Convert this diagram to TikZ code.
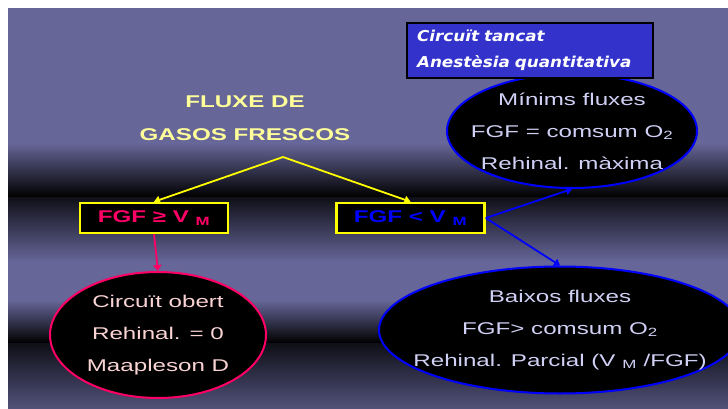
\documentclass[tikz,border=0pt]{standalone}
\usepackage{fontspec}
\setmainfont{Liberation Sans}[FakeStretch=1.42]
\newfontfamily\tagfont{DejaVu Sans}[FakeStretch=1.12]
\usetikzlibrary{arrows.meta,shapes.geometric}

\definecolor{slide}{RGB}{102,102,153}
\definecolor{titleyellow}{RGB}{255,255,153}
\definecolor{boxyellow}{RGB}{255,255,0}
\definecolor{hotpink}{RGB}{255,0,102}
\definecolor{pinktext}{RGB}{250,212,212}
\definecolor{lavender}{RGB}{208,208,245}
\definecolor{pureblue}{RGB}{0,0,255}
\definecolor{tagblue}{RGB}{51,51,204}

\begin{document}
\begin{tikzpicture}[x=1pt,y=1pt,
    cond/.style={rectangle,draw=boxyellow,line width=2.5pt,fill=black,minimum width=148pt,minimum height=30pt,inner sep=0pt,font=\fontsize{17}{20}\selectfont\bfseries},
    bubble/.style={ellipse,fill=black,line width=2pt,inner xsep=-40pt,inner ysep=-20pt,align=center,font=\fontsize{17}{32}\selectfont},
    link/.style={line width=1.8pt,-{Triangle[length=6pt,width=8pt]}}]
    \useasboundingbox (0,0) rectangle (728,-409);

    % slide background with dark bands
    \fill[slide] (8,-8) rectangle (728,-409);
    \shade[top color=slide,bottom color=black] (8,-143) rectangle (728,-197);
    \shade[top color=black!85!slide,bottom color=slide] (8,-197) rectangle (728,-262);
    \shade[top color=slide,bottom color=black] (8,-300) rectangle (728,-343);
    \shade[top color=black!85!slide,bottom color=slide!80!black] (8,-343) rectangle (728,-409);

    \node[align=center,text=titleyellow,font=\fontsize{17}{33}\selectfont\bfseries] (flow) at (245,-118) {FLUXE DE\\GASOS FRESCOS};
    \coordinate (split) at (283,-157);

    \node[cond,text=hotpink] (high) at (154,-218) {FGF ≥ V \textsubscript{M}};
    \node[cond,text=pureblue] (low) at (410.5,-218) {FGF < V \textsubscript{M}};

    \node[bubble,draw=hotpink,text=pinktext,minimum width=216pt,minimum height=126pt] (open) at (158,-335) {Circuït obert\\Rehinal. = 0\\Maapleson D};
    \node[bubble,draw=pureblue,text=lavender,minimum width=362pt,minimum height=127pt] (partial) at (560,-330) {Baixos fluxes\\FGF> comsum O\textsubscript{2}\\Rehinal. Parcial (V \textsubscript{M} /FGF)};
    \node[bubble,draw=pureblue,text=lavender,minimum width=250pt,minimum height=114pt] (minimal) at (572,-131) {Mínims fluxes\\FGF = comsum O\textsubscript{2}\\Rehinal. màxima};

    \node[rectangle,draw=black,line width=2pt,fill=tagblue,text=white,minimum width=246pt,minimum height=55pt,text width=226pt,align=left,font=\tagfont\bfseries\itshape\fontsize{15}{26}\selectfont] (closed) at (530,-50.5) {Circuït tancat\\Anestèsia quantitativa};

    \path[link] (split) edge[draw=boxyellow] (high.north);
    \path[link] (split) edge[draw=boxyellow] (low.north);
    \path[link] (high.south) edge[draw=hotpink] (open.north);
    \path[link] (low.east) edge[draw=pureblue] (minimal.south);
    \path[link] (low.east) edge[draw=pureblue] (partial.north);
  \end{tikzpicture}
\end{document}
